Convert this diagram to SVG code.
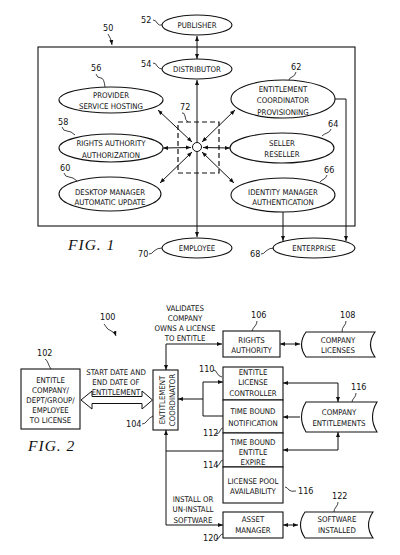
<svg xmlns="http://www.w3.org/2000/svg" width="400" height="555" viewBox="0 0 400 555">
<style>
.s{fill:none;stroke:#111;stroke-width:1.1}
.n{fill:#fff;stroke:#111;stroke-width:1.1}
.c{fill:none;stroke:#111;stroke-width:1}
.ca{fill:none;stroke:#111;stroke-width:1;marker-end:url(#ah)}
.cd{fill:none;stroke:#111;stroke-width:1;marker-start:url(#ah);marker-end:url(#ah)}
.cs{fill:none;stroke:#111;stroke-width:1;marker-start:url(#ah)}
.ld{fill:none;stroke:#111;stroke-width:0.8}
.t{font-family:"DejaVu Sans Condensed","Liberation Sans Narrow","Liberation Sans",sans-serif;font-size:7.8px;fill:#111;text-anchor:middle}
.l{font-family:"DejaVu Sans Condensed","Liberation Sans Narrow","Liberation Sans",sans-serif;font-size:9px;fill:#111}
.f{font-family:"Liberation Serif","Times New Roman",serif;font-style:italic;font-size:15.5px;fill:#111;letter-spacing:1px}
</style>
<defs>
<marker id="ah" viewBox="0 0 10 10" refX="10" refY="5" markerWidth="5" markerHeight="5" markerUnits="userSpaceOnUse" orient="auto-start-reverse">
<path d="M0,1 L10,5 L0,9 z" fill="#111"/>
</marker>
</defs>

<!-- FIG 1 -->
<g id="system50">
<rect class="s" x="38" y="47" width="317" height="179"/>
<text class="l" x="103" y="31">50</text>
<path class="ld" d="M108,34 q3,4 4,11" marker-end="url(#ah)"/>
</g>

<g id="connectors1">
<path class="cd" d="M197,36 V59"/>
<path class="cd" d="M197,80 V237"/>
<path class="cd" d="M158,110 L192,142"/>
<path class="cd" d="M163,148 L191,147.5"/>
<path class="cd" d="M160,183 L192,152"/>
<path class="cd" d="M235,110 L202,142"/>
<path class="cd" d="M230,148 L203,147.5"/>
<path class="cd" d="M234,183 L202,152"/>
<path class="ca" d="M283,212 V241"/>
<path class="ca" d="M335,99 H346 V241"/>
</g>

<g id="hub72">
<rect x="178" y="122" width="41" height="51" fill="none" stroke="#111" stroke-width="1.2" stroke-dasharray="5,3"/>
<circle cx="197" cy="147" r="4.5" fill="#fff" stroke="#111" stroke-width="1"/>
<text class="l" x="180" y="110">72</text>
<path class="ld" d="M182,113 q2,-1 3,3 q0,4 3,6"/>
</g>

<g id="publisher52">
<ellipse class="n" cx="197" cy="25" rx="35" ry="10"/>
<text class="t" x="197" y="28">PUBLISHER</text>
<text class="l" x="141" y="23">52</text>
<path class="ld" d="M153,20 q3,0 4,3 q2,3 5,2"/>
</g>

<g id="distributor54">
<ellipse class="n" cx="197" cy="69" rx="35" ry="10"/>
<text class="t" x="197" y="72">DISTRIBUTOR</text>
<text class="l" x="141" y="67">54</text>
<path class="ld" d="M153,63 q3,0 4,3 q2,3 5,3"/>
</g>

<g id="provider56">
<ellipse class="n" cx="111" cy="100" rx="52" ry="13"/>
<text class="t" x="111" y="98">PROVIDER</text>
<text class="t" x="111" y="109">SERVICE HOSTING</text>
<text class="l" x="91" y="71">56</text>
<path class="ld" d="M96,74 q1,4 5,4 q3,0 4,9"/>
</g>

<g id="rights58">
<ellipse class="n" cx="111" cy="148" rx="52" ry="14"/>
<text class="t" x="111" y="146">RIGHTS AUTHORITY</text>
<text class="t" x="111" y="158">AUTHORIZATION</text>
<text class="l" x="58" y="125">58</text>
<path class="ld" d="M62,127 q1,4 5,4 q4,0 8,4"/>
</g>

<g id="desktop60">
<ellipse class="n" cx="110" cy="194" rx="51" ry="17"/>
<text class="t" x="110" y="195">DESKTOP MANAGER</text>
<text class="t" x="110" y="205">AUTOMATIC UPDATE</text>
<text class="l" x="60" y="171">60</text>
<path class="ld" d="M64,173 q1,4 5,4 q4,0 8,4"/>
</g>

<g id="entitlement62">
<ellipse class="n" cx="283" cy="99" rx="52" ry="19"/>
<text class="t" x="283" y="92">ENTITLEMENT</text>
<text class="t" x="283" y="103">COORDINATOR</text>
<text class="t" x="283" y="115">PROVISIONING</text>
<text class="l" x="291" y="70">62</text>
<path class="ld" d="M296,72 q-1,4 -4,5 q-3,1 -3,3"/>
</g>

<g id="seller64">
<ellipse class="n" cx="282" cy="148" rx="52" ry="15"/>
<text class="t" x="282" y="146">SELLER</text>
<text class="t" x="282" y="157">RESELLER</text>
<text class="l" x="328" y="127">64</text>
<path class="ld" d="M331,129 q-1,3 -4,4 q-3,1 -5,3"/>
</g>

<g id="identity66">
<ellipse class="n" cx="283" cy="195" rx="52" ry="17"/>
<text class="t" x="283" y="195">IDENTITY MANAGER</text>
<text class="t" x="283" y="205">AUTHENTICATION</text>
<text class="l" x="324" y="173">66</text>
<path class="ld" d="M327,175 q-1,3 -3,4 q-2,1 -4,3"/>
</g>

<g id="employee70">
<ellipse class="n" cx="197" cy="248" rx="35" ry="10"/>
<text class="t" x="197" y="251">EMPLOYEE</text>
<text class="l" x="138" y="257">70</text>
<path class="ld" d="M149,254 q3,0 5,-3 q3,-3 8,-3"/>
</g>

<g id="enterprise68">
<ellipse class="n" cx="314" cy="248" rx="41" ry="10"/>
<text class="t" x="314" y="251">ENTERPRISE</text>
<text class="l" x="250" y="257">68</text>
<path class="ld" d="M261,254 q3,0 5,-3 q3,-3 8,-3"/>
</g>

<text class="f" x="68" y="250">FIG. 1</text>

<!-- FIG 2 -->
<text class="l" x="100" y="320">100</text>
<path class="ld" d="M104,324 q3,6 9,8 q2,1 3,4" marker-end="url(#ah)"/>

<g id="connectors2">
<path d="M81,400 L92,391 L92,396.5 L142,396.5 L142,391 L152.5,400 L142,409 L142,403.5 L92,403.5 L92,409 Z" fill="#fff" stroke="#111" stroke-width="1"/>
<path class="cd" d="M222,344 H166 V370"/>
<path class="cd" d="M280,344 H300"/>
<path class="cd" d="M338,402 V383 H283"/>
<path class="ca" d="M300,417 H283"/>
<path class="cd" d="M338,432 V450 H283"/>
<path class="cs" d="M223,382 H203 V416 H223"/>
<path class="ca" d="M203,399 H178"/>
<path class="c" d="M223,451 H166"/>
<path class="cd" d="M223,525 H166 V430"/>
<path class="cd" d="M283,525 H298"/>
</g>

<g id="entitle102">
<rect class="n" x="21" y="369" width="59" height="60"/>
<text class="t" x="50.5" y="383">ENTITLE</text>
<text class="t" x="50.5" y="393">COMPANY/</text>
<text class="t" x="50.5" y="403">DEPT/GROUP/</text>
<text class="t" x="50.5" y="413">EMPLOYEE</text>
<text class="t" x="50.5" y="423">TO LICENSE</text>
<text class="l" x="37" y="356">102</text>
<path class="ld" d="M45,359 q2,1 3,4 q1,3 3,6"/>
</g>

<text class="t" x="116" y="375">START DATE AND</text>
<text class="t" x="116" y="385">END DATE OF</text>
<text class="t" x="116" y="395">ENTITLEMENT</text>

<text class="t" x="185" y="311">VALIDATES</text>
<text class="t" x="185" y="321">COMPANY</text>
<text class="t" x="185" y="331">OWNS A LICENSE</text>
<text class="t" x="185" y="341">TO ENTITLE</text>

<g id="coordinator104">
<rect class="n" x="153" y="370" width="25" height="60"/>
<text class="t" transform="translate(164.5,400) rotate(-90)">ENTITLEMENT</text>
<text class="t" transform="translate(174.5,400) rotate(-90)">COORDINATOR</text>
<text class="l" x="126" y="427">104</text>
<path class="ld" d="M142,424 q3,0 5,-3 q2,-3 6,-5"/>
</g>

<g id="rights106">
<rect class="n" x="223" y="331" width="57" height="26"/>
<text class="t" x="251.5" y="343">RIGHTS</text>
<text class="t" x="251.5" y="353">AUTHORITY</text>
<text class="l" x="251" y="318">106</text>
<path class="ld" d="M257,321 q0,3 -2,5 q-2,2 -3,5"/>
</g>

<g id="licenses108">
<path class="n" d="M306,332 H375 Q366,344.5 375,357 H306 Q297,344.5 306,332 Z"/>
<text class="t" x="338" y="343">COMPANY</text>
<text class="t" x="338" y="353">LICENSES</text>
<text class="l" x="340" y="318">108</text>
<path class="ld" d="M346,321 q0,3 -2,5 q-2,2 -2,6"/>
</g>

<g id="controller110">
<rect class="n" x="223" y="367" width="60" height="33"/>
<text class="t" x="253" y="375">ENTITLE</text>
<text class="t" x="253" y="385">LICENSE</text>
<text class="t" x="253" y="396">CONTROLLER</text>
<text class="l" x="199" y="372">110</text>
<path class="ld" d="M213,370 q3,0 4,3 q1,3 5,4"/>
</g>

<g id="notification112">
<rect class="n" x="223" y="400" width="60" height="33"/>
<text class="t" x="253" y="414">TIME BOUND</text>
<text class="t" x="253" y="426">NOTIFICATION</text>
<text class="l" x="203" y="436">112</text>
<path class="ld" d="M216,434 q3,0 4,-3 q1,-3 3,-3"/>
</g>

<g id="expire114">
<rect class="n" x="223" y="433" width="60" height="34"/>
<text class="t" x="253" y="445">TIME BOUND</text>
<text class="t" x="253" y="455">ENTITLE</text>
<text class="t" x="253" y="465">EXPIRE</text>
<text class="l" x="203" y="468">114</text>
<path class="ld" d="M216,466 q3,0 4,-3 q1,-3 3,-3"/>
</g>

<g id="pool116">
<rect class="n" x="223" y="467" width="60" height="36"/>
<text class="t" x="253" y="484">LICENSE POOL</text>
<text class="t" x="253" y="494">AVAILABILITY</text>
<text class="l" x="298" y="494">116</text>
<path class="ld" d="M285,487 q2,0 4,3 q2,2 7,1"/>
</g>

<g id="entitlements116">
<path class="n" d="M306,402 H377 Q368,417 377,432 H306 Q297,417 306,402 Z"/>
<text class="t" x="339" y="415">COMPANY</text>
<text class="t" x="339" y="426">ENTITLEMENTS</text>
<text class="l" x="351" y="390">116</text>
<path class="ld" d="M356,393 q0,3 -2,5 q-2,2 -2,4"/>
</g>

<g id="asset120">
<rect class="n" x="223" y="512" width="60" height="26"/>
<text class="t" x="253" y="522">ASSET</text>
<text class="t" x="253" y="533">MANAGER</text>
<text class="l" x="203" y="541">120</text>
<path class="ld" d="M216,539 q3,0 4,-3 q1,-2 3,-2"/>
</g>

<g id="software122">
<path class="n" d="M305,512 H373 Q364,525 373,538 H305 Q296,525 305,512 Z"/>
<text class="t" x="337" y="522">SOFTWARE</text>
<text class="t" x="337" y="533">INSTALLED</text>
<text class="l" x="332" y="499">122</text>
<path class="ld" d="M338,502 q0,3 -2,5 q-2,2 -2,5"/>
</g>

<text class="t" x="193" y="502">INSTALL OR</text>
<text class="t" x="193" y="512">UN-INSTALL</text>
<text class="t" x="193" y="523">SOFTWARE</text>

<text class="f" x="28" y="451">FIG. 2</text>
</svg>
